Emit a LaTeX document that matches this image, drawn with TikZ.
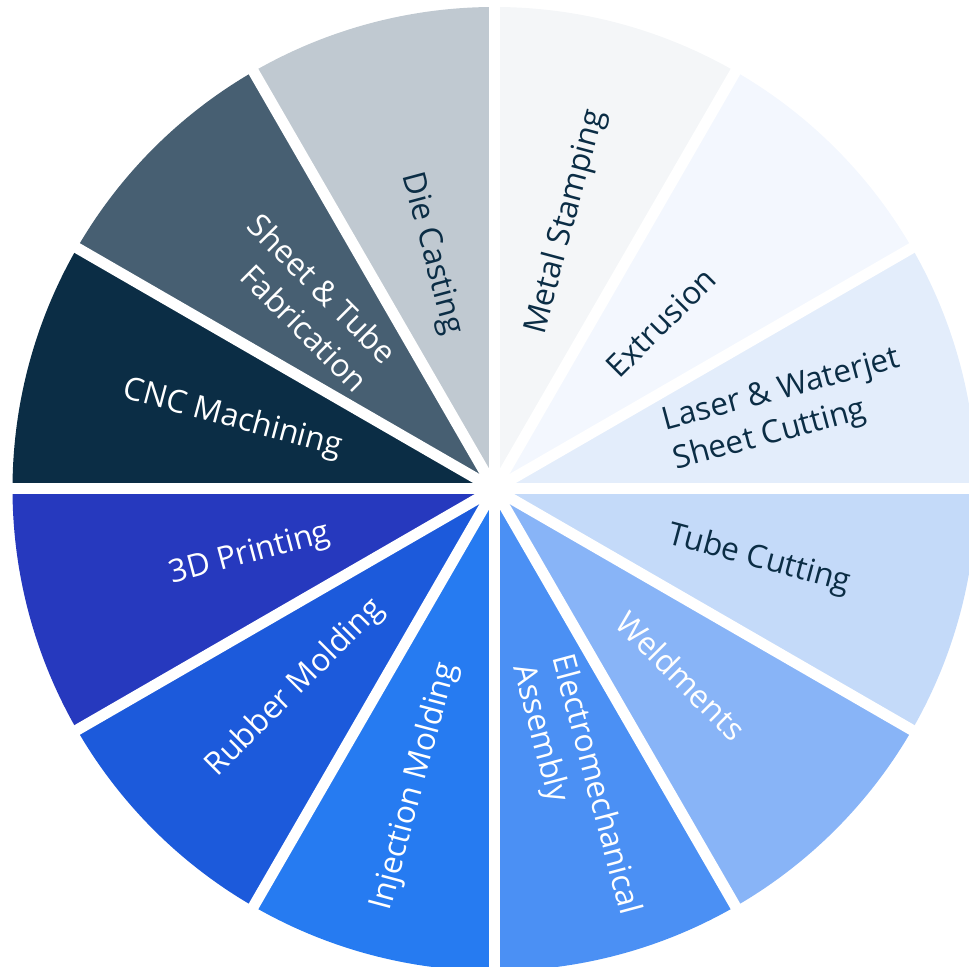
\documentclass[tikz,border=0pt]{standalone}
\usepackage{fontspec}
\setmainfont{Open Sans}
\usepackage{tikz}
\usetikzlibrary{positioning}

\definecolor{navy}{HTML}{0B2D45}
\definecolor{diecol}{HTML}{C0C9D1}
\definecolor{sheetcol}{HTML}{475F72}
\definecolor{cnccol}{HTML}{0B2D45}
\definecolor{printcol}{HTML}{2639BE}
\definecolor{rubbercol}{HTML}{1C5ADB}
\definecolor{injectcol}{HTML}{267BF1}
\definecolor{elecol}{HTML}{4B90F4}
\definecolor{weldcol}{HTML}{88B4F7}
\definecolor{tubecol}{HTML}{C4DAF9}
\definecolor{lasercol}{HTML}{E3EDFB}
\definecolor{extrcol}{HTML}{F3F7FE}
\definecolor{stampcol}{HTML}{F4F6F8}

\tikzstyle{gap} = [white,line width=0.11cm]
\tikzstyle{lbl} = [inner sep=0pt,font=\fontsize{9}{11.5}\selectfont]
\tikzstyle{darklbl} = [lbl,text=navy,align=left,anchor=west]
\tikzstyle{lightlbl} = [lbl,text=white,align=left,anchor=west]
\tikzstyle{lightlblr} = [lbl,text=white,align=right,anchor=east]

\begin{document}
\begin{tikzpicture}
			\useasboundingbox (0,0) rectangle (9.69,9.67);
			\clip (0,0) rectangle (9.69,9.67);
			\coordinate (c) at (4.945,4.78);
			
			%Sectors
			\fill[stampcol] (c) -- ++(60:4.82) arc[start angle=60,end angle=90,radius=4.82] -- cycle;
			\fill[extrcol] (c) -- ++(30:4.82) arc[start angle=30,end angle=60,radius=4.82] -- cycle;
			\fill[lasercol] (c) -- ++(0:4.82) arc[start angle=0,end angle=30,radius=4.82] -- cycle;
			\fill[tubecol] (c) -- ++(-30:4.82) arc[start angle=-30,end angle=0,radius=4.82] -- cycle;
			\fill[weldcol] (c) -- ++(-60:4.82) arc[start angle=-60,end angle=-30,radius=4.82] -- cycle;
			\fill[elecol] (c) -- ++(-90:4.82) arc[start angle=-90,end angle=-60,radius=4.82] -- cycle;
			\fill[injectcol] (c) -- ++(-120:4.82) arc[start angle=-120,end angle=-90,radius=4.82] -- cycle;
			\fill[rubbercol] (c) -- ++(-150:4.82) arc[start angle=-150,end angle=-120,radius=4.82] -- cycle;
			\fill[printcol] (c) -- ++(180:4.82) arc[start angle=180,end angle=210,radius=4.82] -- cycle;
			\fill[cnccol] (c) -- ++(150:4.82) arc[start angle=150,end angle=180,radius=4.82] -- cycle;
			\fill[sheetcol] (c) -- ++(120:4.82) arc[start angle=120,end angle=150,radius=4.82] -- cycle;
			\fill[diecol] (c) -- ++(90:4.82) arc[start angle=90,end angle=120,radius=4.82] -- cycle;
			
			%Gaps
			\draw[gap] ([shift={(0:5)}]c) -- ([shift={(180:5)}]c);
			\draw[gap] ([shift={(30:5)}]c) -- ([shift={(210:5)}]c);
			\draw[gap] ([shift={(60:5)}]c) -- ([shift={(240:5)}]c);
			\draw[gap] ([shift={(90:5)}]c) -- ([shift={(270:5)}]c);
			\draw[gap] ([shift={(120:5)}]c) -- ([shift={(300:5)}]c);
			\draw[gap] ([shift={(150:5)}]c) -- ([shift={(330:5)}]c);
			
			%Labels
			\node[darklbl,rotate=75] (stamping) at ([shift={(75:1.6)}]c) {Metal Stamping};
			\node[darklbl,rotate=45] (extrusion) at ([shift={(45:1.65)}]c) {Extrusion};
			\node[darklbl,rotate=15] (laser) at ([shift={(15:1.8)}]c) {Laser \& Waterjet\\Sheet Cutting};
			\node[darklbl,rotate=-15] (tube) at ([shift={(-15:1.8)}]c) {Tube Cutting};
			\node[lightlbl,rotate=-45] (weld) at ([shift={(-45:1.8)}]c) {Weldments};
			\node[lightlbl,rotate=-75] (electro) at ([shift={(-75:1.77)}]c) {Electromechanical\\Assembly};
			\node[lightlblr,rotate=75] (injection) at ([shift={(-105:1.8)}]c) {Injection Molding};
			\node[lightlblr,rotate=45] (rubber) at ([shift={(-135:1.63)}]c) {Rubber Molding};
			\node[lightlblr,rotate=15] (printing) at ([shift={(-165:1.7)}]c) {3D Printing};
			\node[lightlblr,rotate=-15] (cnc) at ([shift={(165:1.58)}]c) {CNC Machining};
			\node[lightlblr,rotate=-45] (sheet) at ([shift={(135:1.65)}]c) {Sheet \& Tube\\Fabrication};
			\node[lbl,text=navy,anchor=east,rotate=-75] (diecast) at ([shift={(105:1.6)}]c) {Die Casting};
		\end{tikzpicture}
\end{document}
